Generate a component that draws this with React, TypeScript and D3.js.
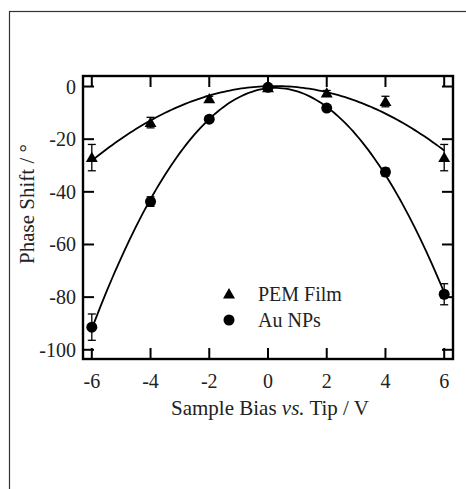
import React from 'react';
import * as d3 from 'd3';

// sample bias (V)
const bias = [-6, -4, -2, 0, 2, 4, 6];
// phase shift (deg)
const pemFilm = [-27, -13.7, -4.7, -0.5, -2.5, -5.7, -27];
const pemErr = [5, 2, 1, 0.5, 1, 2, 5];
const auNPs = [-91.4, -43.7, -12.4, -0.3, -8.2, -32.5, -78.9];
const auErr = [5, 1.8, 1, 0.5, 1, 1.5, 4];

const xTicks = [-6, -4, -2, 0, 2, 4, 6];
const yTicks = [0, -20, -40, -60, -80, -100];

const W = 466;
const H = 489;
const font = "'Liberation Serif', 'Times New Roman', Times, serif";

// least squares quadratic fit, y = a x^2 + b x + c
function quadFit(xs: number[], ys: number[]) {
  const n = xs.length;
  const s = [0, 0, 0, 0, 0];
  const t = [0, 0, 0];
  xs.forEach((x, i) => {
    for (let k = 0; k < 5; k++) s[k] += Math.pow(x, k);
    for (let k = 0; k < 3; k++) t[k] += ys[i] * Math.pow(x, k);
  });
  // normal equations
  const m = [
    [s[4], s[3], s[2], t[2]],
    [s[3], s[2], s[1], t[1]],
    [s[2], s[1], n, t[0]],
  ];
  for (let i = 0; i < 3; i++) {
    for (let j = i + 1; j < 3; j++) {
      const f = m[j][i] / m[i][i];
      for (let k = i; k < 4; k++) m[j][k] -= f * m[i][k];
    }
  }
  const r = [0, 0, 0];
  for (let i = 2; i >= 0; i--) {
    let v = m[i][3];
    for (let k = i + 1; k < 3; k++) v -= m[i][k] * r[k];
    r[i] = v / m[i][i];
  }
  return (x: number) => r[0] * x * x + r[1] * x + r[2];
}

export default function App() {
  const left = 83, right = 453, top = 76, bottom = 359;
  const x = d3.scaleLinear().domain([-6.3, 6.3]).range([left, right]);
  const y = d3.scaleLinear().domain([-103.5, 4]).range([bottom, top]);
  const tick = 11;

  const line = d3.line<number[]>().x(d => x(d[0])).y(d => y(d[1]));
  const fitPath = (ys: number[]) => {
    const f = quadFit(bias, ys);
    const pts = d3.range(-6, 6.001, 0.1).map(v => [v, f(v)]);
    return line(pts) as string;
  };

  const tri = d3.symbol().type(d3.symbolTriangle).size(62)() as string;
  const errBar = (xv: number, yv: number, e: number, k: string) => (
    <g key={k} stroke="#000" strokeWidth={1.3}>
      <line x1={x(xv)} x2={x(xv)} y1={y(yv - e)} y2={y(yv + e)} />
      <line x1={x(xv) - 4} x2={x(xv) + 4} y1={y(yv - e)} y2={y(yv - e)} />
      <line x1={x(xv) - 4} x2={x(xv) + 4} y1={y(yv + e)} y2={y(yv + e)} />
    </g>
  );

  return (
    <svg width={W} height={H} style={{ position: 'absolute', left: 0, top: 0, background: '#fff', fontFamily: font }}>
      <rect x={9.5} y={11.5} width={600} height={600} fill="none" stroke="#333" strokeWidth={1.2} />

      {/* fits */}
      <path d={fitPath(pemFilm)} fill="none" stroke="#000" strokeWidth={1.8} />
      <path d={fitPath(auNPs)} fill="none" stroke="#000" strokeWidth={1.8} />

      {/* error bars */}
      {bias.map((b, i) => errBar(b, pemFilm[i], pemErr[i], 'pe' + i))}
      {bias.map((b, i) => errBar(b, auNPs[i], auErr[i], 'ae' + i))}

      {/* markers */}
      {bias.map((b, i) => (
        <circle key={'a' + i} cx={x(b)} cy={y(auNPs[i])} r={5.5} fill="#000" />
      ))}
      {bias.map((b, i) => (
        <path key={'p' + i} d={tri} transform={`translate(${x(b)},${y(pemFilm[i]) + 1})`} fill="#000" />
      ))}

      {/* frame and ticks */}
      <rect x={left} y={top} width={right - left} height={bottom - top} fill="none" stroke="#000" strokeWidth={2.4} />
      {xTicks.map(t => (
        <g key={'xt' + t} stroke="#000" strokeWidth={2}>
          <line x1={x(t)} x2={x(t)} y1={bottom} y2={bottom - tick} />
          <line x1={x(t)} x2={x(t)} y1={top} y2={top + tick} />
        </g>
      ))}
      {yTicks.map(t => (
        <g key={'yt' + t} stroke="#000" strokeWidth={2}>
          <line x1={left} x2={left + tick} y1={y(t)} y2={y(t)} />
          <line x1={right} x2={right - tick} y1={y(t)} y2={y(t)} />
        </g>
      ))}
      {xTicks.map(t => (
        <text key={'xl' + t} x={x(t)} y={388} textAnchor="middle" fontSize={20} fill="#222">{t}</text>
      ))}
      {yTicks.map(t => (
        <text key={'yl' + t} x={76} y={y(t) + 7} textAnchor="end" fontSize={20} fill="#222">{t}</text>
      ))}

      {/* axis titles */}
      <text x={270} y={415} textAnchor="middle" fontSize={21} fill="#222">
        Sample Bias <tspan fontStyle="italic">vs.</tspan> Tip / V
      </text>
      <text transform="translate(34,204) rotate(-90)" textAnchor="middle" fontSize={21} fill="#222">
        Phase Shift / °
      </text>

      {/* legend */}
      <path d={tri} transform="translate(229,295)" fill="#000" />
      <circle cx={229} cy={320} r={5.5} fill="#000" />
      <text x={258} y={301} fontSize={20} fill="#222">PEM Film</text>
      <text x={258} y={327} fontSize={20} fill="#222">Au NPs</text>
    </svg>
  );
}
